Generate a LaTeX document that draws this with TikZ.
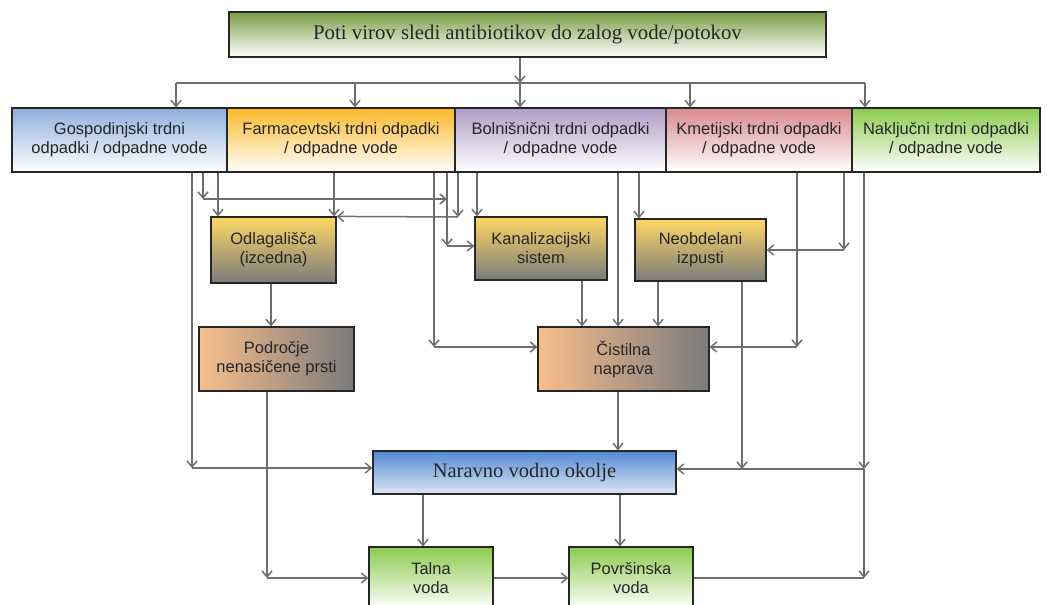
\documentclass[tikz,border=0pt]{standalone}
\usepackage{fontspec}
\setmainfont{Liberation Sans}
\newfontfamily\timesfont{Liberation Serif}
\usetikzlibrary{arrows.meta}
\definecolor{olivegreen}{HTML}{7A9E45}
\definecolor{gospblue}{HTML}{8EB0DD}
\definecolor{farmorange}{HTML}{FBB829}
\definecolor{bolnpurple}{HTML}{AE9DC6}
\definecolor{kmetred}{HTML}{D98A8C}
\definecolor{naklgreen}{HTML}{8CCB4E}
\definecolor{stageyellow}{HTML}{FDD865}
\definecolor{stagegray}{HTML}{7B7B7B}
\definecolor{peach}{HTML}{F8BE8C}
\definecolor{waterblue}{HTML}{5289D3}
\definecolor{waterlight}{HTML}{DDE7F4}
\definecolor{linegray}{HTML}{6E6E6E}
\definecolor{inkgray}{HTML}{262626}
\begin{document}
\begin{tikzpicture}
[x=1pt, y=-1pt,
box/.style={draw=black!85, line width=1.2pt, align=center, inner sep=0pt, text=inkgray, font=\fontsize{16.5}{19}\selectfont},
titlebox/.style={box, minimum width=597pt, minimum height=45pt, top color=olivegreen, bottom color=white, font=\timesfont\fontsize{20.8}{24}\selectfont},
sourcebox/.style={box, minimum height=64pt, top color=#1, bottom color=white},
stagebox/.style={box, top color=stageyellow, bottom color=stagegray},
treatbox/.style={box, minimum height=64pt, left color=peach, right color=stagegray},
envbox/.style={box, minimum width=303pt, minimum height=43pt, top color=waterblue, bottom color=waterlight, font=\timesfont\fontsize{20.5}{24}\selectfont},
waterbox/.style={box, minimum width=124pt, minimum height=62pt, top color=naklgreen, bottom color=white},
flow/.style={draw=linegray, line width=1.5pt, -{Straight Barb[length=6pt,width=10pt]}},
wire/.style={draw=linegray, line width=1.5pt}]
\useasboundingbox (0,0) rectangle (1047,605);
\clip (0,0) rectangle (1047,605);
\node[titlebox] (poti) at (527.5,34.5) {Poti virov sledi antibiotikov do zalog vode/potokov};
\node[sourcebox=gospblue, minimum width=215pt] (gosp) at (119.5,140) {Gospodinjski trdni\\odpadki / odpadne vode};
\node[sourcebox=farmorange, minimum width=228pt] (farm) at (341,140) {Farmacevtski trdni odpadki\\/ odpadne vode};
\node[sourcebox=bolnpurple, minimum width=211pt] (bolni) at (560.5,140) {Bolnišnični trdni odpadki\\/ odpadne vode};
\node[sourcebox=kmetred, minimum width=186pt] (kmet) at (759,140) {Kmetijski trdni odpadki\\/ odpadne vode};
\node[sourcebox=naklgreen, minimum width=188pt] (nakl) at (946,140) {Naključni trdni odpadki\\/ odpadne vode};
\node[stagebox, minimum width=125pt, minimum height=66pt] (odlag) at (273.5,250) {Odlagališča\\(izcedna)};
\node[stagebox, minimum width=132pt, minimum height=63pt] (kanal) at (541,248.5) {Kanalizacijski\\sistem};
\node[stagebox, minimum width=131pt, minimum height=62pt] (neobd) at (700.5,250) {Neobdelani\\izpusti};
\node[treatbox, minimum width=155pt] (podr) at (276.5,359) {Področje\\nenasičene prsti};
\node[treatbox, minimum width=171pt] (cist) at (623.5,359) {Čistilna\\naprava};
\node[envbox] (narav) at (524.5,472.5) {Naravno vodno okolje};
\node[waterbox] (talna) at (431,578) {Talna\\voda};
\node[waterbox] (povrs) at (631,578) {Površinska\\voda};
\coordinate (busL) at (176,83);
\coordinate (busR) at (865,83);
\draw[flow] (520,0 |- poti.south) -- (520,0 |- busL);
\draw[wire] (busL) -- (busR);
\foreach \x/\n in {176/gosp,355/farm,520/bolni,690/kmet,865/nakl}
  \draw[flow] (\x,0 |- busL) -- (\x,0 |- \n.north);
\coordinate (g1) at (192,468);
\coordinate (g2) at (203,199);
\coordinate (f1) at (434,347);
\coordinate (f2) at (447,199);
\coordinate (f3) at (447,246);
\coordinate (b1) at (458,217);
\coordinate (n1) at (742,469);
\coordinate (k1) at (797,347);
\coordinate (k2) at (844,250);
\coordinate (r1) at (864,469);
\path (povrs.east -| r1) coordinate (r2);
\path (267,0 |- talna.west) coordinate (p1);
\draw[flow] (192,0 |- gosp.south) -- (g1);
\draw[flow] (g1) -- (g1 -| narav.west);
\draw[flow] (203,0 |- gosp.south) -- (g2);
\draw[flow] (g2) -- (f2);
\draw[flow] (218,0 |- gosp.south) -- (218,0 |- odlag.north);
\draw[flow] (334,0 |- farm.south) -- (334,0 |- odlag.north);
\draw[flow] (434,0 |- farm.south) -- (f1);
\draw[flow] (f1) -- (f1 -| cist.west);
\draw[flow] (447,0 |- farm.south) -- (f3);
\draw[flow] (f3) -- (f3 -| kanal.west);
\draw[flow] (458,0 |- bolni.south) -- (b1);
\draw[flow] (b1) -- (odlag.north east);
\draw[flow] (477,0 |- bolni.south) -- (477,0 |- kanal.north);
\draw[flow] (582,0 |- kanal.south) -- (582,0 |- cist.north);
\draw[flow] (618,0 |- bolni.south) -- (618,0 |- cist.north);
\draw[flow] (639,0 |- bolni.south) -- (639,0 |- neobd.north);
\draw[flow] (658,0 |- neobd.south) -- (658,0 |- cist.north);
\draw[flow] (742,0 |- neobd.south) -- (n1);
\draw[flow] (n1) -- (n1 -| narav.east);
\draw[flow] (797,0 |- kmet.south) -- (k1);
\draw[flow] (k1) -- (k1 -| cist.east);
\draw[flow] (844,0 |- kmet.south) -- (k2);
\draw[flow] (k2) -- (k2 -| neobd.east);
\draw[flow] (864,0 |- nakl.south) -- (r1);
\draw[wire] (r1) -- (n1);
\draw[flow] (r1) -- (r2);
\draw[wire] (povrs.east) -- (r2);
\draw[flow] (271,0 |- odlag.south) -- (271,0 |- podr.north);
\draw[flow] (267,0 |- podr.south) -- (p1);
\draw[flow] (p1) -- (talna.west);
\draw[flow] (618,0 |- cist.south) -- (618,0 |- narav.north);
\draw[flow] (423,0 |- narav.south) -- (423,0 |- talna.north);
\draw[flow] (620,0 |- narav.south) -- (620,0 |- povrs.north);
\draw[flow] (talna) -- (povrs);
\end{tikzpicture}
\end{document}
